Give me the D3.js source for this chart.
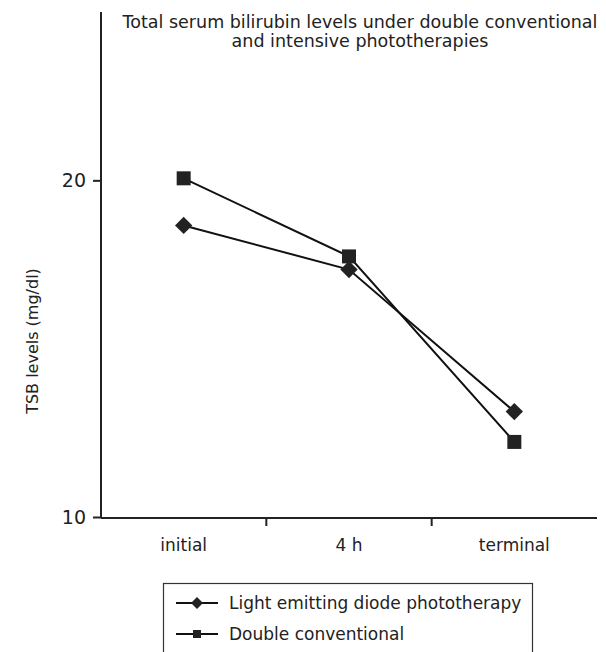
<!DOCTYPE html>
<html>
<head>
<meta charset="utf-8">
<script src="https://cdn.jsdelivr.net/npm/d3@7"></script>
<style>
  body { margin: 0; background: #fff; }
  text { font-family: "DejaVu Sans", sans-serif; fill: #222; }
</style>
</head>
<body>
<div class="chart"></div>
<script>
var categories = ["initial", "4 h", "terminal"];
var yTicks = [10, 20];
var ledValues = [18.66, 17.35, 13.13];
var doubleValues = [20.06, 17.74, 12.23];
var seriesNames = ["Light emitting diode phototherapy", "Double conventional"];
var titleLines = ["Total serum bilirubin levels under double conventional", "and intensive phototherapies"];

var width = 606,
    height = 652;

var svg = d3.select(".chart").append("svg")
    .attr("width", width)
    .attr("height", height);

var x = d3.scaleBand()
    .domain(categories)
    .range([101, 597]);

var y = d3.scaleLinear()
    .domain([10, 25])
    .range([517, 12]);

// y axis
var yAxis = svg.append("g")
    .attr("transform", "translate(101,0)")
    .call(d3.axisLeft(y).tickValues(yTicks).tickSize(8).tickPadding(7).tickFormat(d3.format("d")));
yAxis.select(".domain").attr("stroke", "#222").attr("stroke-width", 2).attr("d", "M0," + y(25) + "V" + (y(10) + 1));
yAxis.selectAll(".tick line").attr("stroke", "#222").attr("stroke-width", 2);
yAxis.selectAll(".tick text").style("font-size", "19px").style("font-family", "'DejaVu Sans', sans-serif").attr("fill", "#222");

// x axis, ticks sit between the categories
var xAxis = svg.append("g")
    .attr("transform", "translate(0," + (y(10) + 1) + ")");
xAxis.append("path")
    .attr("d", "M101,0H597")
    .attr("stroke", "#222")
    .attr("stroke-width", 2);
xAxis.selectAll(".sep")
    .data(categories.slice(1))
    .enter()
    .append("line")
      .attr("x1", function(d){ return x(d); })
      .attr("x2", function(d){ return x(d); })
      .attr("y1", 0)
      .attr("y2", 8)
      .attr("stroke", "#222")
      .attr("stroke-width", 2);
xAxis.selectAll(".cat")
    .data(categories)
    .enter()
    .append("text")
      .attr("x", function(d){ return x(d) + x.bandwidth()/2; })
      .attr("y", 33)
      .style("text-anchor", "middle")
      .style("font-size", "17px")
      .text(function(d){ return d; });

// y label
svg.append("text")
    .attr("transform", "translate(38,341) rotate(-90)")
    .style("text-anchor", "middle")
    .style("font-size", "16px")
    .text("TSB levels (mg/dl)");

// title
svg.selectAll(".title")
    .data(titleLines)
    .enter()
    .append("text")
      .attr("x", 360)
      .attr("y", function(d, i){ return 28 + i*19; })
      .style("text-anchor", "middle")
      .style("font-size", "17.5px")
      .text(function(d){ return d; });

var line = d3.line()
    .x(function(d, i){ return x(categories[i]) + x.bandwidth()/2; })
    .y(function(d){ return y(d); });

var diamond = d3.symbol().type(d3.symbolSquare).size(150);
var square = d3.symbol().type(d3.symbolSquare).size(196);

function drawSeries(values, sym, rotate) {
  svg.append("path")
      .datum(values)
      .attr("d", line)
      .attr("fill", "none")
      .attr("stroke", "#111")
      .attr("stroke-width", 2);
  svg.selectAll(null)
    .data(values)
    .enter()
    .append("path")
      .attr("d", sym)
      .attr("transform", function(d, i){
        return "translate(" + (x(categories[i]) + x.bandwidth()/2) + "," + y(d) + ")" + (rotate ? " rotate(45)" : "");
      })
      .attr("fill", "#222");
}

drawSeries(doubleValues, square, false);
drawSeries(ledValues, diamond, true);

// legend
var legend = svg.append("g");
legend.append("rect")
    .attr("x", 163.5)
    .attr("y", 583.5)
    .attr("width", 369)
    .attr("height", 90)
    .attr("fill", "none")
    .attr("stroke", "#333")
    .attr("stroke-width", 1.2);

var rows = legend.selectAll(".row")
    .data(seriesNames)
    .enter()
    .append("g")
      .attr("transform", function(d, i){ return "translate(0," + (603 + i*31) + ")"; });
rows.append("line")
    .attr("x1", 176).attr("x2", 218)
    .attr("stroke", "#111").attr("stroke-width", 2);
rows.append("path")
    .attr("d", function(d, i){ return i === 0 ? d3.symbol().type(d3.symbolSquare).size(72)() : d3.symbol().type(d3.symbolSquare).size(64)(); })
    .attr("transform", function(d, i){ return "translate(197,0)" + (i === 0 ? " rotate(45)" : ""); })
    .attr("fill", "#222");
rows.append("text")
    .attr("x", 229)
    .attr("y", 6)
    .style("font-size", "17px")
    .text(function(d){ return d; });
</script>
</body>
</html>
